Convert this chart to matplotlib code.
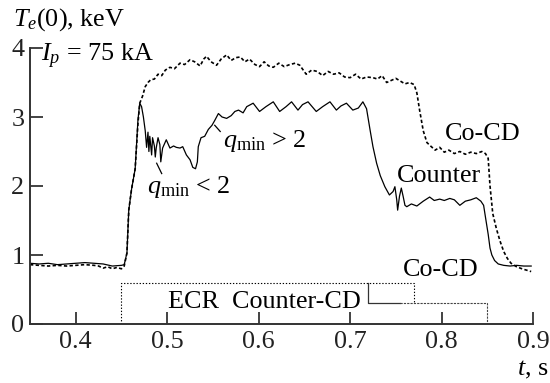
import matplotlib
matplotlib.use("Agg")
import matplotlib.pyplot as plt

plt.rcParams["font.family"] = ["Liberation Serif", "DejaVu Serif"]
plt.rcParams["mathtext.fontset"] = "custom"
plt.rcParams["mathtext.rm"] = "Liberation Serif"
plt.rcParams["mathtext.it"] = "Liberation Serif:italic"
plt.rcParams["mathtext.bf"] = "Liberation Serif:bold"

# Central electron temperature, co-current-drive ECR shot (dotted)
t_co = [0.350, 0.360, 0.370, 0.380, 0.390, 0.400, 0.410, 0.420, 0.425, 0.430,
        0.435, 0.440, 0.445, 0.450, 0.453, 0.456, 0.458, 0.461, 0.465, 0.468,
        0.470, 0.473, 0.476, 0.479, 0.482, 0.486, 0.490, 0.494, 0.498, 0.503,
        0.508, 0.514, 0.519, 0.525, 0.530, 0.536, 0.540, 0.543, 0.548, 0.554,
        0.559, 0.565, 0.570, 0.575, 0.580, 0.585, 0.590, 0.596, 0.601, 0.606,
        0.611, 0.616, 0.622, 0.628, 0.634, 0.640, 0.645, 0.652, 0.658, 0.664,
        0.670, 0.676, 0.682, 0.688, 0.694, 0.700, 0.706, 0.712, 0.718, 0.725,
        0.730, 0.735, 0.740, 0.745, 0.750, 0.755, 0.760, 0.765, 0.770, 0.773,
        0.776, 0.780, 0.784, 0.788, 0.793, 0.798, 0.803, 0.808, 0.814, 0.820,
        0.826, 0.832, 0.838, 0.844, 0.848, 0.851, 0.853, 0.856, 0.860, 0.864,
        0.868, 0.872, 0.876, 0.882, 0.888, 0.893, 0.898]
te_co = [0.86, 0.85, 0.84, 0.85, 0.84, 0.85, 0.86, 0.85, 0.84, 0.81,
         0.83, 0.80, 0.82, 0.80, 0.84, 1.03, 1.65, 1.95, 2.25, 2.90,
         3.20, 3.30, 3.44, 3.50, 3.54, 3.55, 3.62, 3.60, 3.68, 3.72,
         3.70, 3.78, 3.76, 3.83, 3.80, 3.74, 3.84, 3.88, 3.80, 3.75,
         3.84, 3.90, 3.82, 3.86, 3.87, 3.80, 3.84, 3.76, 3.73, 3.80,
         3.74, 3.72, 3.78, 3.73, 3.76, 3.78, 3.75, 3.62, 3.68, 3.66,
         3.60, 3.66, 3.62, 3.64, 3.58, 3.57, 3.62, 3.55, 3.58, 3.57,
         3.55, 3.60, 3.50, 3.53, 3.56, 3.52, 3.48, 3.50, 3.47, 3.35,
         3.10, 2.80, 2.63, 2.58, 2.52, 2.56, 2.49, 2.52, 2.47, 2.50,
         2.46, 2.49, 2.47, 2.50, 2.47, 2.40, 2.00, 1.60, 1.38, 1.20,
         1.05, 0.95, 0.88, 0.83, 0.80, 0.78, 0.76]

# Central electron temperature, counter-current-drive ECR shot (solid)
t_ctr = [0.350, 0.360, 0.370, 0.380, 0.390, 0.400, 0.410, 0.420, 0.430, 0.440,
         0.450, 0.453, 0.456, 0.458, 0.461, 0.465, 0.468, 0.470, 0.472, 0.474,
         0.476, 0.4775, 0.479, 0.480, 0.481, 0.483, 0.484, 0.486, 0.487, 0.488,
         0.490, 0.492, 0.493, 0.495, 0.499, 0.503, 0.507, 0.510, 0.514, 0.517,
         0.521, 0.525, 0.528, 0.531, 0.533, 0.534, 0.537, 0.541, 0.545, 0.549,
         0.552, 0.556, 0.560, 0.565, 0.570, 0.574, 0.578, 0.583, 0.587, 0.594,
         0.601, 0.608, 0.616, 0.623, 0.630, 0.636, 0.643, 0.648, 0.654, 0.663,
         0.670, 0.678, 0.685, 0.690, 0.696, 0.703, 0.709, 0.714, 0.718, 0.722,
         0.725, 0.729, 0.733, 0.738, 0.743, 0.747, 0.749, 0.751, 0.752, 0.754,
         0.756, 0.758, 0.760, 0.762, 0.767, 0.773, 0.780, 0.787, 0.792, 0.798,
         0.803, 0.809, 0.814, 0.820, 0.826, 0.832, 0.838, 0.843, 0.846, 0.848,
         0.851, 0.853, 0.855, 0.858, 0.862, 0.868, 0.875, 0.882, 0.890, 0.898]
te_ctr = [0.88, 0.87, 0.88, 0.86, 0.87, 0.88, 0.89, 0.88, 0.87, 0.84,
          0.85, 0.86, 1.03, 1.65, 1.95, 2.25, 2.95, 3.20, 3.15, 3.00,
          2.80, 2.56, 2.78, 2.50, 2.72, 2.45, 2.70, 2.58, 2.42, 2.55,
          2.70, 2.60, 2.35, 2.55, 2.67, 2.55, 2.58, 2.56, 2.55, 2.57,
          2.45, 2.38, 2.27, 2.25, 2.35, 2.57, 2.70, 2.72, 2.82, 2.88,
          2.95, 3.05, 3.00, 2.98, 3.02, 3.08, 3.10, 3.06, 3.15, 3.20,
          3.08, 3.15, 3.22, 3.08, 3.15, 3.22, 3.10, 3.18, 3.22, 3.08,
          3.15, 3.22, 3.10, 3.16, 3.20, 3.10, 3.13, 3.22, 3.12, 2.80,
          2.57, 2.33, 2.15, 1.99, 1.87, 1.92, 1.99, 1.80, 1.65, 1.85,
          1.97, 1.85, 1.72, 1.70, 1.74, 1.71, 1.78, 1.84, 1.79, 1.81,
          1.79, 1.82, 1.80, 1.72, 1.78, 1.80, 1.83, 1.78, 1.72, 1.55,
          1.30, 1.10, 1.00, 0.92, 0.87, 0.85, 0.84, 0.85, 0.84, 0.84]

# ECR timing (s) and indicator levels (keV scale)
ecr_on = 0.45
ecr_co_off = 0.77
ecr_ctr_switch = 0.72
ecr_ctr_off = 0.85
ecr_level_hi = 0.6
ecr_level_lo = 0.3

x_ticks = [0.4, 0.5, 0.6, 0.7, 0.8, 0.9]
x_tick_labels = ["0.4", "0.5", "0.6", "0.7", "0.8", "0.9"]
y_ticks = [0, 1, 2, 3, 4]
y_tick_labels = ["0", "1", "2", "3", "4"]

W, H = 550, 383
fig = plt.figure(figsize=(W / 100, H / 100), dpi=100)
ax = fig.add_axes([30 / W, (H - 324) / H, 503 / W, (324 - 48) / H])

ax.plot(t_co, te_co, color="black", lw=1.2, linestyle=(0, (2, 1.4)))
ax.plot(t_ctr, te_ctr, color="black", lw=0.9)

# ECR power indicators
dot = dict(color="black", lw=0.8, linestyle=(0, (1.2, 1.6)))
sol = dict(color="#333333", lw=0.9)
ax.plot([ecr_on, ecr_on, ecr_co_off, ecr_co_off],
        [0, ecr_level_hi, ecr_level_hi, ecr_level_lo], **dot)
ax.plot([ecr_ctr_switch, ecr_ctr_switch, 0.755],
        [ecr_level_hi, ecr_level_lo, ecr_level_lo], **sol)
ax.plot([0.755, ecr_ctr_off, ecr_ctr_off],
        [ecr_level_lo, ecr_level_lo, 0], color="#444444", lw=0.8,
        linestyle=(0, (2, 1)))

fs = 18.8
ax.set_xlim(0.35, 0.9)
ax.set_ylim(0, 4)
ax.set_xticks(x_ticks, x_tick_labels)
ax.set_yticks(y_ticks, y_tick_labels)
ax.tick_params(direction="in", length=9, width=1.2, labelsize=fs,
               colors="#222222")
ax.tick_params(axis="x", pad=5)
ax.tick_params(axis="y", pad=4)
for s in ("top", "right"):
    ax.spines[s].set_visible(False)
for s in ("left", "bottom"):
    ax.spines[s].set_linewidth(1.4)
    ax.spines[s].set_color("#333333")
ax.patch.set_alpha(0)

kw = dict(fontsize=fs, color="black", va="baseline", clip_on=False)
ax.text(0.331, 4.33, r"$T_e$(0), keV", **kw)
ax.text(0.362, 3.80, r"$I_p$ = 75 kA", **kw)
ax.text(0.561, 2.57, r"$q_{\rm min}$ > 2", **kw)
ax.text(0.478, 1.90, r"$q_{\rm min}$ < 2", **kw)
ax.text(0.8035, 2.67, "Co-CD", **kw)
ax.text(0.751, 2.06, "Counter", **kw)
ax.text(0.758, 0.69, "Co-CD", **kw)
ax.text(0.501, 0.23, "ECR  Counter-CD", **kw)
ax.text(0.883, -0.74, r"$t$, s", **kw)

# pointer strokes for the q_min labels
ax.plot([0.4885, 0.494], [2.33, 2.18], color="black", lw=0.9)
ax.plot([0.552, 0.558], [2.88, 2.79], color="black", lw=0.9)

fig.savefig("out.png", dpi=100)
